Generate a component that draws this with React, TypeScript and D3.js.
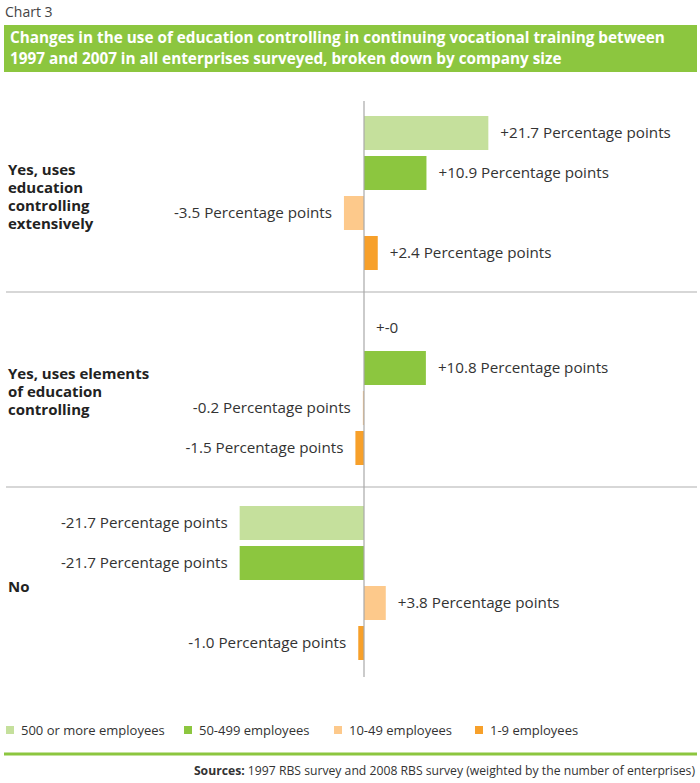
import React from 'react';
import * as d3 from 'd3';

const categories = ['extensively', 'elements', 'no'];
const categoryLabels = [
  ['Yes, uses', 'education', 'controlling', 'extensively'],
  ['Yes, uses elements', 'of education', 'controlling'],
  ['No'],
];
const seriesNames = ['500 or more employees', '50-499 employees', '10-49 employees', '1-9 employees'];
const seriesColors = ['#c5e09c', '#8cc63f', '#fdc98b', '#f7a02a'];

// percentage-point change per category, one array per company size
const values500 = [21.7, 0, -21.7];
const values50 = [10.9, 10.8, -21.7];
const values10 = [-3.5, -0.2, 3.8];
const values1 = [2.4, -1.5, -1.0];
const seriesValues = [values500, values50, values10, values1];

const font = '"Open Sans", "Noto Sans", sans-serif';
const W = 700;
const H = 783;

const fmt = (v: number) => {
  if (v === 0) return '+-0';
  return (v > 0 ? '+' : '-') + Math.abs(v).toFixed(1) + ' Percentage points';
};

export default function App() {
  const x = d3.scaleLinear().domain([-25, 25]).range([364 - 25 * 5.73, 364 + 25 * 5.73]);
  const y = d3.scaleBand<string>().domain(categories).range([97, 682]);
  const inner = d3
    .scaleBand<string>()
    .domain(seriesNames)
    .range([16, 176])
    .paddingInner(0.15)
    .paddingOuter(0.075);

  const legendX = [6, 184, 334, 475];

  return (
    <svg
      width={W}
      height={H}
      style={{ position: 'absolute', left: 0, top: 0, fontFamily: font }}
    >
      <rect width={W} height={H} fill="#fff" />
      <text x={5} y={17} fontSize={14} fill="#444">Chart 3</text>
      <rect x={4} y={25} width={693} height={47} fill="#8cc63f" />
      <text x={10} y={43} fontSize={15.3} fontWeight="bold" fill="#fff">
        Changes in the use of education controlling in continuing vocational training between
      </text>
      <text x={10} y={64} fontSize={15.3} fontWeight="bold" fill="#fff">
        1997 and 2007 in all enterprises surveyed, broken down by company size
      </text>

      {/* separators between groups */}
      {categories.slice(1).map((c) => (
        <line key={c} x1={6} x2={697} y1={y(c)!} y2={y(c)!} stroke="#b0b0b0" strokeWidth={1.2} />
      ))}

      {categories.map((c, ci) => {
        const g0 = y(c)!;
        const lines = categoryLabels[ci];
        const cy = g0 + y.bandwidth() / 2 + 2;
        const top = cy - ((lines.length - 1) * 18) / 2;
        return (
          <g key={c}>
            {lines.map((l, li) => (
              <text key={li} x={8} y={top + li * 18} dy="0.35em" fontSize={15} fontWeight="bold" fill="#222">
                {l}
              </text>
            ))}
            {seriesNames.map((s, si) => {
              const v = seriesValues[si][ci];
              const by = g0 + inner(s)!;
              const x0 = x(Math.min(0, v));
              const x1 = x(Math.max(0, v));
              const pos = v >= 0;
              return (
                <g key={s}>
                  <rect x={x0} y={by} width={x1 - x0} height={inner.bandwidth()} fill={seriesColors[si]} />
                  <text
                    x={pos ? x1 + 12 : x0 - 12}
                    y={by + inner.bandwidth() / 2}
                    dy="0.35em"
                    textAnchor={pos ? 'start' : 'end'}
                    fontSize={15.2}
                    fill="#333"
                  >
                    {fmt(v)}
                  </text>
                </g>
              );
            })}
          </g>
        );
      })}

      <line x1={x(0)} x2={x(0)} y1={101} y2={677} stroke="#a8a8a8" strokeWidth={1.2} />

      {seriesNames.map((s, i) => (
        <g key={s}>
          <rect x={legendX[i]} y={726} width={8} height={8} fill={seriesColors[i]} />
          <text x={legendX[i] + 15} y={730.5} dy="0.35em" fontSize={13} fill="#333">{s}</text>
        </g>
      ))}

      <line x1={4} x2={697} y1={754} y2={754} stroke="#8cc63f" strokeWidth={3} />
      <text x={695} y={775} textAnchor="end" fontSize={12.2} fill="#333">
        <tspan fontWeight="bold">Sources:</tspan> 1997 RBS survey and 2008 RBS survey (weighted by the number of enterprises)
      </text>
    </svg>
  );
}
